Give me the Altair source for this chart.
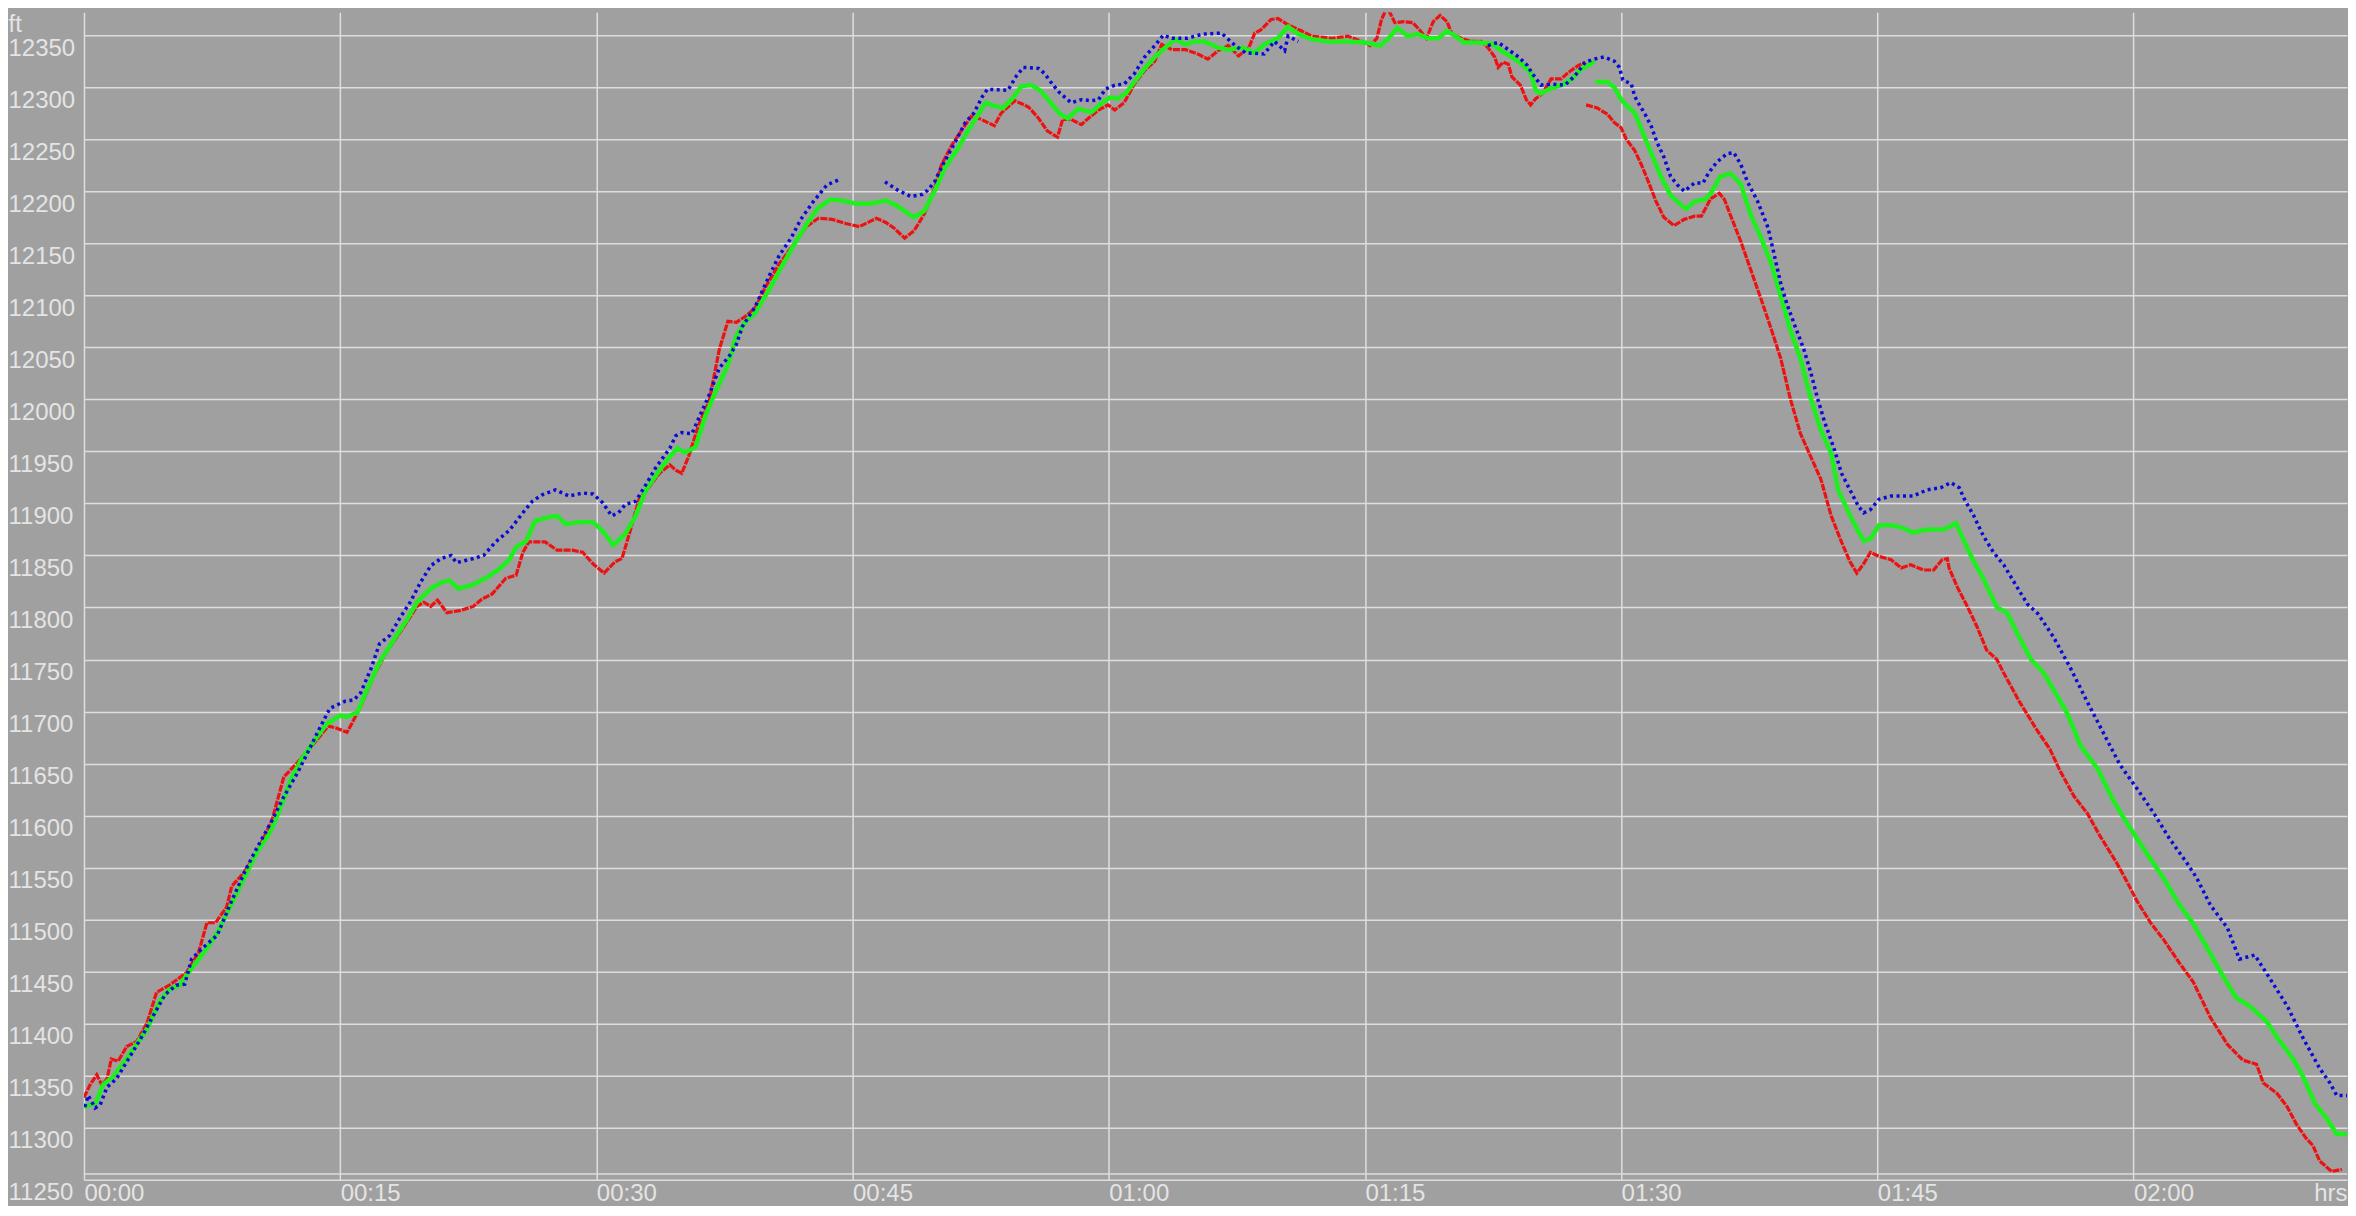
import altair as alt
import pandas as pd

# ---------------- data (minutes since start, feet) ----------------
green_time = [0.0, 0.7, 1.1, 1.7, 2.3, 2.9, 3.7, 4.45, 5.0, 5.6, 6.2, 7.0, 7.8, 8.55, 9.35, 10.1, 10.9, 11.5,
              12.1, 12.7, 13.4, 14.2, 15.0, 15.4, 16.0, 16.6, 17.3, 18.1, 18.9, 19.5, 20.3, 20.9, 21.4, 21.9,
              22.8, 23.6, 24.4, 24.9, 25.3, 25.9, 26.4, 27.0, 27.7, 28.2, 29.0, 29.8, 30.35, 31.0, 31.7, 32.3,
              32.9, 33.7, 34.3, 34.75, 35.2, 35.8, 36.4, 37.0, 37.7, 38.2, 38.75, 39.3, 40.1, 40.9, 41.7, 42.5,
              43.0, 43.7, 44.4, 45.2, 46.0, 46.95, 47.6, 48.6, 49.2, 49.8, 50.4, 51.2, 51.75, 52.3, 52.8, 53.3,
              53.8, 54.3, 54.9, 55.5, 56.05, 56.6, 57.1, 57.6, 58.2, 59.0, 59.6, 60.06, 60.5, 61.0, 61.5, 62.1,
              62.7, 63.3, 63.9, 64.5, 65.0, 65.6, 66.4, 67.0, 67.8, 68.55, 69.1, 69.9, 70.5, 71.1, 71.9, 72.9,
              74.0, 75.0, 75.9, 76.4, 76.9, 77.5, 78.1, 78.7, 79.3, 79.8, 80.3, 80.8, 81.6, 82.4, 83.0, 83.6,
              84.2, 84.7, 85.0, 85.3, 85.9, 86.5, 87.1, 87.7, 88.2, 88.45,
              88.5, 89.2, 89.6, 90.0, 90.4, 90.8, 91.2, 91.75, 92.3, 92.9, 93.5, 93.8, 94.3, 94.9, 95.25, 95.8,
              96.4, 97.0, 97.6, 98.2, 98.8, 99.35, 99.9, 100.5, 101.1, 101.7, 102.3, 102.7, 103.05, 103.6,
              104.2, 104.6, 105.1, 105.8, 106.4, 107.1, 107.9, 108.9, 109.6, 110.1, 110.65, 111.2, 112.0,
              112.6, 113.2, 114.0, 114.75, 115.1, 116.1, 116.9, 117.9, 118.8, 119.6, 120.2, 120.8, 121.75,
              122.7, 123.5, 124.3, 125.2, 126.0, 126.8, 127.8, 128.4, 129.4, 129.9, 130.6, 131.3, 131.9, 132.5]
green_ft = [11320, 11324, 11341, 11349, 11362, 11376, 11395, 11422, 11433, 11437, 11451, 11468, 11487, 11512,
            11539, 11564, 11584, 11607, 11634, 11653, 11670, 11688, 11696, 11695, 11699, 11722, 11747, 11768,
            11788, 11805, 11818, 11824, 11826, 11818, 11822, 11829, 11838, 11846, 11858, 11864, 11883, 11886,
            11888, 11880, 11882, 11882, 11874, 11860, 11871, 11888, 11913, 11932, 11945, 11953, 11949, 11954,
            11985, 12008, 12033, 12061, 12075, 12083, 12105, 12129, 12152, 12173, 12184, 12192, 12191, 12188,
            12188, 12191, 12186, 12175, 12181, 12200, 12222, 12242, 12258, 12272, 12285, 12282, 12280, 12288,
            12301, 12302, 12296, 12285, 12275, 12270, 12279, 12276, 12285, 12290, 12289, 12294, 12305, 12318,
            12329, 12338, 12346, 12341, 12344, 12344, 12338, 12336, 12338, 12333, 12341, 12347, 12358, 12351,
            12346, 12344, 12344, 12343, 12340, 12347, 12357, 12349, 12351, 12347, 12347, 12354, 12349, 12343,
            12343, 12342, 12335, 12329, 12322, 12314, 12297, 12294, 12299, 12302, 12308, 12318, 12322, 12325,
            12305, 12305, 12300, 12288, 12281, 12275, 12259, 12237, 12215, 12196, 12187, 12183, 12190, 12192,
            12198, 12214, 12217, 12207, 12177, 12155, 12130, 12099, 12067, 12039, 12001, 11970, 11948, 11913,
            11901, 11882, 11864, 11866, 11879, 11879, 11877, 11872, 11875, 11875, 11881, 11863, 11844, 11828,
            11800, 11795, 11775, 11750, 11737, 11727, 11699, 11667, 11645, 11615, 11593, 11578, 11563, 11540,
            11514, 11496, 11473, 11447, 11425, 11417, 11402, 11387, 11365, 11350, 11324, 11309, 11294, 11294]
green_breaks = [88.45]

red_time = [0.0, 0.35, 0.75, 1.05, 1.35, 1.6, 2.0, 2.5, 3.1, 3.7, 4.25, 5.0, 6.0, 6.7, 7.2, 7.7, 8.35, 8.65,
            9.35, 10.1, 11.0, 11.7, 12.5, 13.4, 14.3, 14.8, 15.4, 15.7, 16.2, 16.95, 17.7, 18.5, 19.5, 19.9,
            20.3, 20.7, 21.25, 22.0, 22.8, 23.3, 23.9, 24.7, 25.3, 25.7, 26.05, 27.0, 27.7, 28.6, 29.2, 29.8,
            30.45, 31.1, 31.5, 31.9, 32.5, 33.1, 33.7, 34.3, 34.65, 35.0, 35.4, 36.0, 36.6, 37.2, 37.7, 38.2,
            38.75, 39.3, 39.9, 40.7, 41.7, 42.3, 43.0, 43.8, 44.6, 45.4, 46.4, 46.95, 47.4, 48.05, 48.6, 49.2,
            49.8, 50.2, 50.8, 51.4, 51.95, 52.4, 53.3, 53.7, 54.5, 55.3, 55.9, 56.4, 57.0, 57.3, 57.8, 58.4,
            58.8, 59.4, 59.96, 60.35, 60.9, 61.5, 62.1, 62.7, 63.1, 63.7, 64.5, 65.2, 65.8, 66.4, 67.0, 67.6,
            68.2, 68.55, 68.9, 69.5, 69.9, 70.5, 71.3, 71.9, 73.05, 74.0, 74.8, 75.3, 75.7, 75.97, 76.3, 76.75,
            77.3, 77.8, 78.2, 78.6, 79.0, 79.4, 79.8, 80.1, 80.65, 81.2, 81.8, 82.2, 82.6, 82.8, 83.1, 83.4,
            83.6, 84.1, 84.45, 84.7, 85.0, 85.4, 85.9, 86.5, 86.9, 87.5, 87.9,
            87.95, 88.6, 89.2, 89.6, 90.0, 90.3, 90.8, 91.2, 91.6, 92.05, 92.5, 93.1, 93.7, 94.3, 94.7, 95.25,
            95.75, 96.05, 96.4, 97.0, 97.6, 98.2, 98.8, 99.35, 99.9, 100.5, 101.1, 101.7, 102.3, 102.9, 103.4,
            103.8, 104.2, 104.6, 105.1, 105.8, 106.4, 106.95, 107.7, 108.3, 108.8, 109.1, 109.2, 109.7, 110.3,
            110.85, 111.4, 112.0, 112.4, 113.3, 114.35, 115.1, 115.7, 116.5, 117.3, 118.05, 119.0, 119.6,
            120.2, 121.0, 121.75, 122.7, 123.5, 124.5, 125.5, 126.4, 127.2, 127.6, 128.4, 129.0, 129.55,
            130.1, 130.5, 130.9, 131.6, 132.2]
red_ft = [11329, 11341, 11351, 11341, 11347, 11366, 11364, 11378, 11383, 11401, 11430, 11437, 11449, 11468,
          11497, 11497, 11512, 11532, 11545, 11564, 11595, 11637, 11651, 11668, 11686, 11684, 11680, 11689,
          11705, 11734, 11757, 11776, 11801, 11805, 11801, 11807, 11795, 11797, 11801, 11808, 11813, 11828,
          11831, 11853, 11863, 11863, 11855, 11855, 11853, 11842, 11833, 11844, 11847, 11869, 11904, 11916,
          11929, 11937, 11932, 11929, 11945, 11976, 11998, 12048, 12075, 12074, 12080, 12088, 12108, 12130,
          12152, 12166, 12174, 12173, 12169, 12166, 12174, 12170, 12165, 12155, 12162, 12178, 12203, 12225,
          12244, 12259, 12272, 12270, 12263, 12275, 12287, 12281, 12270, 12258, 12252, 12269, 12269, 12264,
          12270, 12278, 12283, 12278, 12285, 12303, 12316, 12325, 12341, 12336, 12336, 12332, 12327, 12335,
          12340, 12330, 12338, 12352, 12355, 12365, 12366, 12360, 12354, 12349, 12347, 12349, 12344, 12340,
          12347, 12365, 12377, 12362, 12363, 12362, 12355, 12347, 12363, 12369, 12363, 12351, 12347, 12344,
          12344, 12338, 12329, 12319, 12324, 12322, 12310, 12302, 12288, 12283, 12289, 12294, 12308, 12308,
          12314, 12321, 12324,
          12283, 12280, 12274, 12266, 12261, 12250, 12239, 12225, 12209, 12190, 12175, 12167, 12173, 12176,
          12176, 12193, 12198, 12192, 12177, 12152, 12124, 12096, 12067, 12039, 12001, 11967, 11945, 11923,
          11888, 11863, 11844, 11833, 11842, 11853, 11849, 11846, 11838, 11841, 11836, 11836, 11846, 11847,
          11838, 11819, 11800, 11781, 11759, 11750, 11737, 11710, 11682, 11664, 11643, 11619, 11602, 11580,
          11555, 11537, 11518, 11497, 11481, 11458, 11440, 11406, 11380, 11365, 11361, 11343, 11333, 11320,
          11303, 11290, 11283, 11268, 11258, 11260]
red_breaks = [87.9]

blue_time = [0.05, 0.25, 0.65, 0.95, 1.35, 1.9, 2.6, 3.3, 3.9, 4.75, 5.4, 5.9, 6.3, 6.9, 7.8, 8.65, 9.5, 10.1,
             11.0, 11.7, 12.5, 13.2, 13.8, 14.4, 14.9, 15.3, 15.8, 16.2, 16.8, 17.3, 17.9, 18.5, 19.1, 19.7,
             20.3, 20.9, 21.5, 21.8, 22.8, 23.4, 24.1, 24.9, 25.7, 26.25, 26.8, 27.6, 28.4, 29.2, 29.8, 30.35,
             30.9, 31.3, 31.7, 32.3, 32.9, 33.5, 34.3, 34.65, 35.0, 35.6, 36.0, 36.6, 37.2, 37.8, 38.2, 38.55,
             39.3, 40.1, 40.7, 41.4, 41.97, 42.7, 43.5, 44.2,
             46.9, 47.65, 48.4, 49.1, 49.4, 49.8, 50.3, 51.0, 51.6, 52.1, 52.6, 52.9, 54.1, 54.6, 55.0, 55.9,
             56.25, 56.6, 57.1, 57.8, 58.4, 59.0, 59.4, 59.8, 60.35, 60.9, 61.5, 62.1, 62.7, 63.2, 63.7, 64.6,
             65.5, 66.6, 67.4, 68.0, 69.1, 69.7, 70.3, 70.5, 71.1,
             82.2, 82.8, 83.4, 84.0, 84.5, 84.8, 85.3, 85.9, 86.7, 87.3, 87.9, 88.4, 89.0, 89.6, 89.9, 90.1,
             90.6, 90.8, 91.0, 91.4, 91.75, 92.1, 92.5, 92.9, 93.3, 93.7, 94.3, 94.8, 95.1, 95.6, 96.2, 96.6,
             97.0, 97.4, 98.0, 98.6, 98.95, 99.35, 99.7, 100.1, 100.7, 101.1, 101.5, 101.9, 102.5, 102.9,
             103.4, 103.9, 104.2, 104.6, 105.1, 105.8, 106.6, 107.1, 107.9, 108.7, 109.3, 109.8, 110.1,
             110.65, 111.2, 111.8, 112.4, 113.2, 113.8, 114.4, 115.3, 116.3, 117.3, 118.25, 119.2, 120.2,
             121.2, 122.1, 123.1, 123.7, 124.5, 125.5, 126.2, 127.1, 128.0, 129.0, 129.9, 130.9, 131.5,
             131.9, 132.5, 132.8]
blue_ft = [11320, 11331, 11319, 11322, 11339, 11347, 11366, 11385, 11403, 11428, 11437, 11438, 11462, 11472,
           11485, 11518, 11549, 11568, 11595, 11618, 11641, 11664, 11684, 11703, 11707, 11710, 11711, 11718,
           11741, 11765, 11773, 11790, 11805, 11824, 11840, 11847, 11850, 11843, 11847, 11850, 11863, 11874,
           11891, 11902, 11908, 11913, 11907, 11910, 11909, 11901, 11888, 11891, 11899, 11902, 11918, 11935,
           11953, 11965, 11968, 11967, 11982, 12004, 12030, 12042, 12053, 12070, 12089, 12118, 12138, 12155,
           12173, 12190, 12206, 12211,
           12209, 12201, 12195, 12197, 12201, 12209, 12226, 12247, 12266, 12275, 12291, 12298, 12297, 12311,
           12319, 12318, 12313, 12305, 12295, 12285, 12288, 12287, 12288, 12298, 12302, 12303, 12313, 12329,
           12340, 12350, 12347, 12347, 12351, 12352, 12340, 12333, 12332, 12344, 12335, 12349, 12344,
           12340, 12343, 12336, 12329, 12321, 12313, 12302, 12303, 12302, 12311, 12324, 12327, 12329, 12325,
           12319, 12307, 12303, 12291, 12285, 12274, 12263, 12247, 12233, 12214, 12206, 12200, 12208, 12208,
           12217, 12228, 12236, 12237, 12226, 12209, 12190, 12165, 12140, 12111, 12092, 12074, 12048, 12026,
           12001, 11979, 11951, 11929, 11913, 11897, 11891, 11894, 11904, 11907, 11907, 11907, 11913, 11915,
           11920, 11915, 11904, 11888, 11869, 11853, 11841, 11819, 11803, 11794, 11772, 11742, 11709, 11679,
           11649, 11626, 11602, 11578, 11555, 11540, 11514, 11492, 11462, 11466, 11443, 11417, 11387, 11357,
           11343, 11331, 11331, 11328]
blue_breaks = [44.2, 71.1]

x_tick_values = [0, 15, 30, 45, 60, 75, 90, 105, 120]
x_tick_labels = ["00:00", "00:15", "00:30", "00:45", "01:00", "01:15", "01:30", "01:45", "02:00"]
y_tick_values = list(range(11250, 12351, 50))
x_domain = [0, 132.5]
y_domain = [11250, 12372]
frame_ft = [11255.6]


def frame(times, values, breaks):
    seg = [sum(t > b for b in breaks) for t in times]
    return pd.DataFrame({"t": times, "ft": values, "seg": seg})


red_df = frame(red_time, red_ft, red_breaks)
green_df = frame(green_time, green_ft, green_breaks)
blue_df = frame(blue_time, blue_ft, blue_breaks)

BG = "#a0a0a0"
GRID = "#dedede"
TXT = "#e4e4e4"
FONT = "Liberation Sans"
W, H = 2264, 1168

label_expr = ("[" + ",".join(repr(s) for s in x_tick_labels) + "][indexof(["
              + ",".join(str(v) for v in x_tick_values) + "], datum.value)]")

x_enc = alt.X(
    "t:Q",
    scale=alt.Scale(domain=x_domain, nice=False, zero=False),
    axis=alt.Axis(
        values=x_tick_values, labelExpr=label_expr, orient="bottom",
        ticks=False, tickSize=0, domain=False,
        grid=True, gridColor=GRID, gridWidth=1.5,
        labelAlign="left", labelBaseline="top", labelPadding=2, labelFlush=False,
        labelFontSize=24, labelColor=TXT, labelFont=FONT, labelOverlap=False,
        title="hrs", titleX=W, titleY=2, titleAlign="right", titleBaseline="top",
        titleAnchor="end", titleAngle=0,
        titleFontSize=24, titleFontWeight="normal", titleColor=TXT, titleFont=FONT,
    ),
)

y_enc = alt.Y(
    "ft:Q",
    scale=alt.Scale(domain=y_domain, nice=False, zero=False),
    axis=alt.Axis(
        values=y_tick_values, format="d", orient="left",
        ticks=False, tickSize=0, domain=False,
        grid=True, gridColor=GRID, gridWidth=1.5,
        labelAlign="left", labelBaseline="top", labelPadding=76, labelOffset=1,
        labelFontSize=24, labelColor=TXT, labelFont=FONT, labelOverlap=False, labelBound=False,
        title="ft", titleX=-76, titleY=19, titleAlign="left", titleBaseline="alphabetic",
        titleAngle=0, titleFontSize=24, titleFontWeight="normal", titleColor=TXT, titleFont=FONT,
    ),
)

frame_rule = alt.Chart(pd.DataFrame({"ft": frame_ft})).mark_rule(
    color=GRID, strokeWidth=1.5
).encode(y=y_enc)

red = alt.Chart(red_df).mark_line(
    color="#ee1111", strokeWidth=3.2, strokeDash=[7, 1.2], clip=True
).encode(x=x_enc, y=y_enc, detail="seg:N", order="t:Q")

green = alt.Chart(green_df).mark_line(
    color="#1ef01e", strokeWidth=4.5, clip=True
).encode(x=x_enc, y=y_enc, detail="seg:N", order="t:Q")

blue = alt.Chart(blue_df).mark_line(
    color="#0b0bd8", strokeWidth=3.5, strokeDash=[3, 3.5], clip=True
).encode(x=x_enc, y=y_enc, detail="seg:N", order="t:Q")

chart = alt.layer(frame_rule, red, green, blue).properties(
    width=W, height=H, background=BG,
    padding={"top": 4, "left": 0, "right": 0, "bottom": 0}
).configure_view(stroke=None)

chart.save("out.html", embed_options={"renderer": "svg", "actions": False})
